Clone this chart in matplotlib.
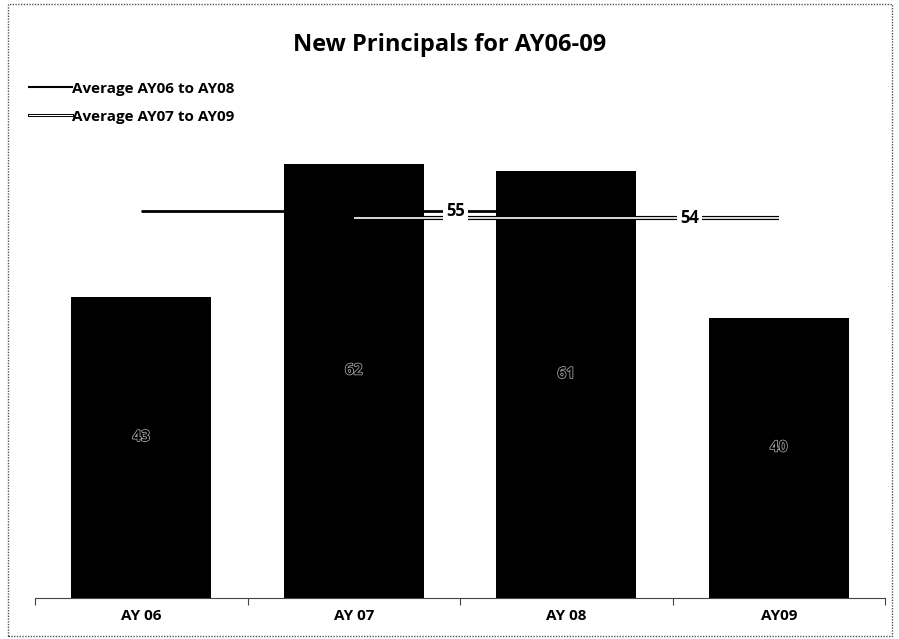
import matplotlib
matplotlib.use("Agg")
import matplotlib.pyplot as plt
import matplotlib.patheffects as pe
from matplotlib.lines import Line2D
from matplotlib.patches import Rectangle

categories = ["AY 06", "AY 07", "AY 08", "AY09"]
values = [43, 62, 61, 40]
bar_labels = ["43", "62", "61", "40"]
avg1_label = "Average AY06 to AY08"
avg2_label = "Average AY07 to AY09"
avg1 = sum(values[0:3]) / 3
avg2 = sum(values[1:4]) / 3
title = "New Principals for AY06-09"

plt.rcParams['font.family'] = ['Open Sans', 'DejaVu Sans']

fig = plt.figure(figsize=(8.99, 6.39), dpi=100)
ax = fig.add_axes([35/899, 41/639, 850/899, 490/639])

x = list(range(len(categories)))
ax.bar(x, values, width=0.66, color='black', zorder=2)

for xi, v, lab in zip(x, values, bar_labels):
    ax.text(xi, v / 2 + 1.5, lab, ha='center', va='center', fontsize=11,
            color='black', fontweight='bold', zorder=5,
            path_effects=[pe.withStroke(linewidth=1.0, foreground='#bbbbbb')])

# average lines
ax.plot([0, 2], [avg1, avg1], color='black', lw=2, zorder=3, solid_capstyle='butt')
ax.plot([1, 3], [avg2, avg2], color='white', lw=1.2, zorder=3, solid_capstyle='butt',
        path_effects=[pe.Stroke(linewidth=3.0, foreground='black'), pe.Normal()])

ax.text(1.48, avg1, f"{avg1:.0f}", ha='center', va='center', fontsize=12,
        fontweight='bold', zorder=6,
        bbox=dict(boxstyle='square,pad=0.2', fc='white', ec='none'))
ax.text(2.58, avg2, f"{avg2:.0f}", ha='center', va='center', fontsize=12,
        fontweight='bold', zorder=6,
        bbox=dict(boxstyle='square,pad=0.2', fc='white', ec='none'))

ax.set_xlim(-0.5, 3.5)
ax.set_ylim(0, 70)
for s in ['top', 'right', 'left']:
    ax.spines[s].set_visible(False)
ax.spines['bottom'].set_color('#444444')
ax.set_yticks([])
ax.set_xticks([-0.5, 0.5, 1.5, 2.5, 3.5], minor=False)
ax.set_xticklabels([])
ax.tick_params(axis='x', length=5, color='#444444', direction='out')
ax.set_xticks(x, minor=True)
ax.set_xticklabels(categories, minor=True, fontsize=11, fontweight='bold')
ax.tick_params(axis='x', which='minor', length=0, pad=8)

# legend
leg_handles = [
    Line2D([0], [0], color='black', lw=1.5),
    Line2D([0], [0], color='white', lw=0.8,
           path_effects=[pe.Stroke(linewidth=2.2, foreground='black'), pe.Normal()]),
]
leg = fig.legend(leg_handles, [avg1_label, avg2_label], loc='upper left',
                 bbox_to_anchor=(15/899, 1 - 68/639), frameon=False,
                 handlelength=2.8, handletextpad=0.0, labelspacing=0.9,
                 prop={'weight': 'bold', 'size': 11})

fig.text(0.5, 1 - 45/639, title, ha='center', va='center', fontsize=17,
         fontweight='bold')

# outer frame
fig.patches.append(Rectangle((8/899, 3/639), 884/899, 632/639, transform=fig.transFigure,
                             fill=False, ec='#555555', lw=1, ls=(0, (1, 1))))

fig.savefig("out.png", dpi=100)
